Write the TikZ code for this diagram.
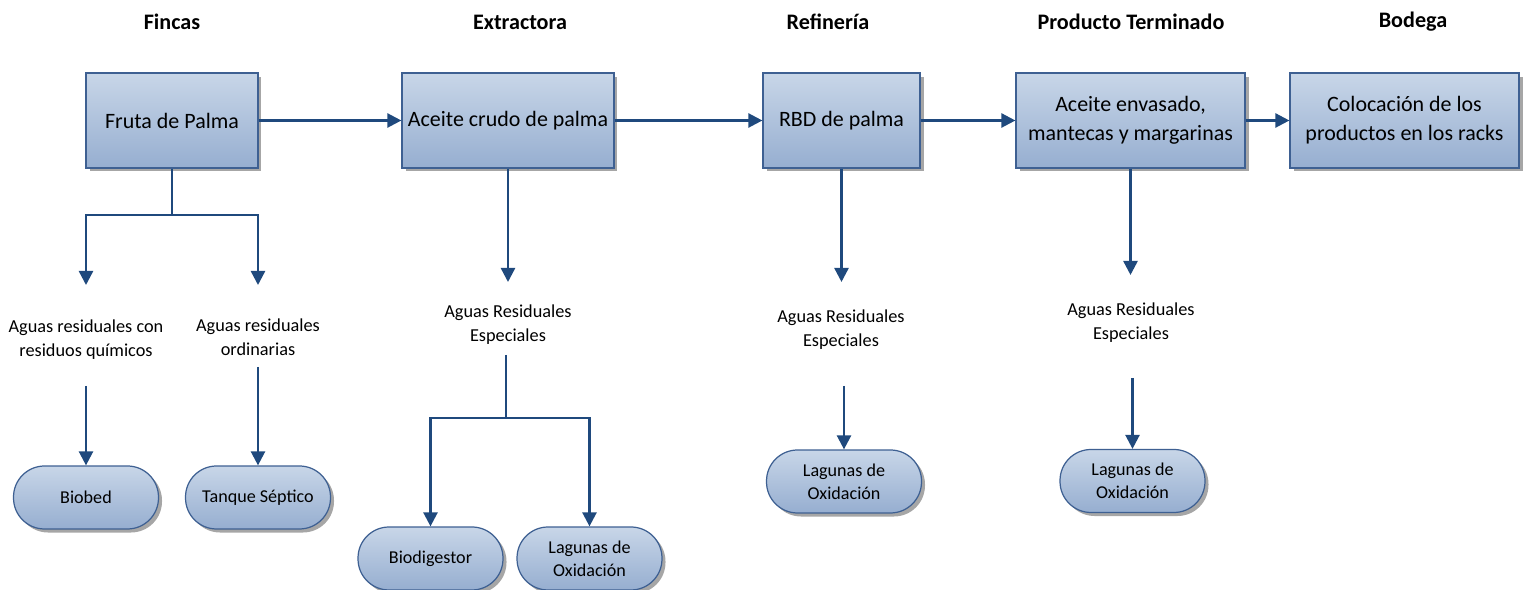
\documentclass[tikz,border=0pt]{standalone}
\usepackage{fontspec}
\setmainfont{Carlito}
\usetikzlibrary{arrows.meta,shadows,positioning}

\definecolor{azulclaro}{RGB}{200,214,232}
\definecolor{azulmedio}{RGB}{150,174,208}
\definecolor{borde}{RGB}{62,96,146}
\definecolor{flechaazul}{RGB}{31,73,125}

\tikzset{
	etapa/.style={font=\bfseries\fontsize{12.6}{15}\selectfont},
	sombra/.style={drop shadow={shadow xshift=2pt, shadow yshift=-2pt, fill=black!35, opacity=1}},
	proceso/.style={sombra, draw=borde, line width=0.7pt, top color=azulclaro, bottom color=azulmedio,
		align=center, inner sep=0pt, minimum height=1.9cm, font=\fontsize{12.5}{16.5}\selectfont},
	residuo/.style={align=center, font=\fontsize{10.4}{13.7}\selectfont},
	destino/.style={sombra, draw=borde, line width=0.7pt, rounded corners=0.62cm, top color=azulclaro,
		bottom color=azulmedio, minimum width=2.9cm, minimum height=1.26cm, align=center,
		font=\fontsize{10.3}{13}\selectfont},
	linea/.style={draw=flechaazul, line width=1.4pt},
	flecha/.style={linea, -{Triangle[length=8pt,width=8pt]}},
}

\begin{document}
\begin{tikzpicture}[x=0.02cm, y=-0.02cm]
	\useasboundingbox (0,0) rectangle (1526,590);

	% etapas
	\node[etapa] (t-fincas) at (172,22) {Fincas};
	\node[etapa] (t-extractora) at (520,22) {Extractora};
	\node[etapa] (t-refineria) at (828,22) {Refinería};
	\node[etapa] (t-producto) at (1131,22) {Producto Terminado};
	\node[etapa] (t-bodega) at (1413,22) {Bodega};

	% cadena principal
	\node[proceso, minimum width=3.44cm] (fruta) at (172,120.5) {Fruta de Palma};
	\node[proceso, minimum width=4.24cm] (crudo) at (508,120.5) {Aceite crudo de palma};
	\node[proceso, minimum width=3.14cm] (rbd) at (841.5,120.5) {RBD de palma};
	\node[proceso, minimum width=4.58cm] (envasado) at (1130.5,120.5) {Aceite envasado,\\mantecas y margarinas};
	\node[proceso, minimum width=4.58cm] (racks) at (1404.5,120.5) {Colocación de los\\productos en los racks};

	\draw[flecha] (fruta) -- (crudo);
	\draw[flecha] (crudo) -- (rbd);
	\draw[flecha] (rbd) -- (envasado);
	\draw[flecha] (envasado) -- (racks);

	% Fincas
	\node[residuo] (quimicos) at (86,339.5) {Aguas residuales con\\residuos químicos};
	\node[residuo] (ordinarias) at (258,337) {Aguas residuales\\ordinarias};
	\node[destino] (biobed) at (86,497.5) {Biobed};
	\node[destino] (septico) at (258,497.5) {Tanque Séptico};
	\coordinate (f-rama) at (172,215);
	\coordinate (f-quim) at (86,285);
	\coordinate (f-ord) at (258,285);
	\coordinate (q-sal) at (86,386);
	\coordinate (o-sal) at (258,367);
	\draw[linea] (fruta.south) -- (f-rama);
	\draw[flecha] (f-rama) -| (f-quim);
	\draw[flecha] (f-rama) -| (f-ord);
	\draw[flecha] (q-sal) -- (biobed.north);
	\draw[flecha] (o-sal) -- (septico.north);

	% Extractora
	\node[residuo] (esp-ext) at (508,325) {Aguas Residuales\\Especiales};
	\node[destino] (biodigestor) at (430.5,558.5) {Biodigestor};
	\node[destino] (lag-ext) at (589.5,558.5) {Lagunas de\\Oxidación};
	\coordinate (e-ent) at (508,282);
	\coordinate (e-sal) at (506,355);
	\coordinate (e-rama) at (506,418);
	\draw[flecha] (crudo.south) -- (e-ent);
	\draw[linea] (e-sal) -- (e-rama);
	\draw[flecha] (e-rama) -| (biodigestor.north);
	\draw[flecha] (e-rama) -| (lag-ext.north);

	% Refineria
	\node[residuo] (esp-ref) at (841,330) {Aguas Residuales\\Especiales};
	\node[destino, minimum width=3.1cm] (lag-ref) at (844,481.5) {Lagunas de\\Oxidación};
	\coordinate (r-ent) at (841.5,282);
	\coordinate (r-sal) at (844,386);
	\draw[flecha] (rbd.south) -- (r-ent);
	\draw[flecha] (r-sal) -- (lag-ref.north);

	% Producto terminado
	\node[residuo] (esp-prod) at (1131,323) {Aguas Residuales\\Especiales};
	\node[destino] (lag-prod) at (1132.5,481) {Lagunas de\\Oxidación};
	\coordinate (p-ent) at (1130.5,275);
	\coordinate (p-sal) at (1132.5,378);
	\draw[flecha] (envasado.south) -- (p-ent);
	\draw[flecha] (p-sal) -- (lag-prod.north);
\end{tikzpicture}
\end{document}
